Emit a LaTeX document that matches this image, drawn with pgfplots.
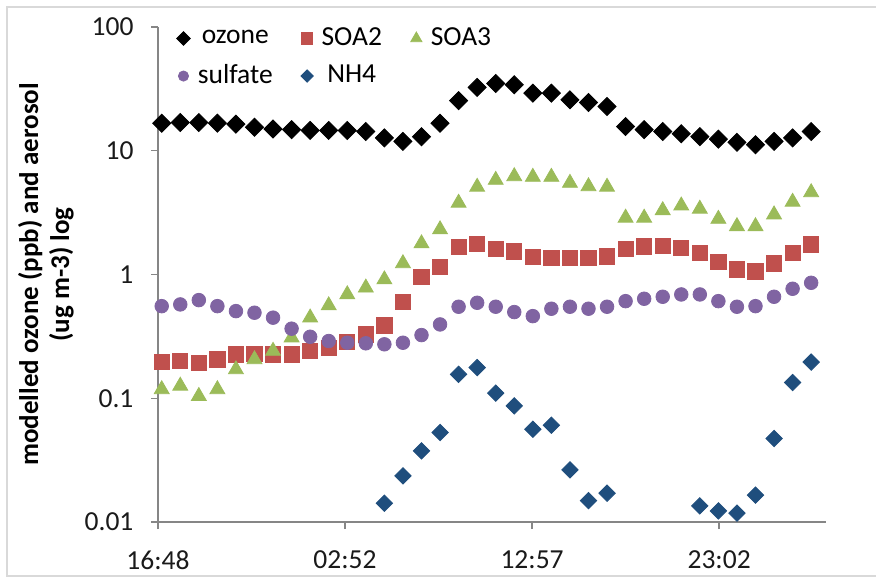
\documentclass[border=0pt]{standalone}
\usepackage{fontspec}
\setmainfont{Carlito}
\usepackage{pgfplots}
\pgfplotsset{compat=1.18}
\definecolor{soatwo}{HTML}{C0504D}
\definecolor{soathree}{HTML}{9BBB59}
\definecolor{sulf}{HTML}{8064A2}
\definecolor{nhfour}{HTML}{1F4E7D}
\definecolor{axgray}{HTML}{868686}
\definecolor{framegray}{HTML}{D9D9D9}
\definecolor{txt}{HTML}{1A1A1A}
\begin{document}
\fontsize{13.75}{16.5}\selectfont
\begin{tikzpicture}
\useasboundingbox (0,0) rectangle (438pt,289.5pt);
\draw[framegray, line width=1pt] (438pt,1.5pt) -- (3.5pt,1.5pt) -- (3.5pt,286pt) -- (438pt,286pt);
\begin{axis}[
  at={(79pt,28.5pt)}, anchor=south west,
  scale only axis, width=334pt, height=247.5pt,
  ymode=log, ymin=0.01, ymax=100,
  xmin=-0.2, xmax=35.8,
  xtick={-0.2,9.88,19.96,30.04},
  xticklabels={16:48,02:52,12:57,23:02},
  ytick={0.01,0.1,1,10,100},
  yticklabels={0.01,0.1,1,10,100},
  yminorticks=false, xminorticks=false,
  axis x line*=bottom, axis y line*=left,
  axis line style={axgray, line width=0.7pt, -},
  tick align=outside, major tick length=3.5pt,
  tick style={axgray, line width=0.7pt},
  /pgf/number format/assume math mode=true,
  ticklabel style={font=\fontsize{13.75}{16}\selectfont, text=txt},
  xticklabel style={yshift=-6pt},
  yticklabel style={xshift=-4pt},
  ylabel={modelled ozone (ppb) and aerosol\\(ug m-3) log},
  ylabel style={at={(axis description cs:-0.168,0.5)}, anchor=center, align=center, font=\fontsize{13.5}{15.5}\selectfont\bfseries, text=black},
  legend columns=3,
  legend style={draw=none, fill=none, at={(axis description cs:0.01,1.012)}, anchor=north west,
    font=\fontsize{13.75}{15}\selectfont, nodes={inner sep=1pt}, row sep=5.5pt,
    /tikz/every even column/.append style={column sep=10pt}},
  legend image code/.code={\path (-6pt,0pt) (6pt,0pt); \draw[#1, /tikz/every mark/.append style={scale=0.75}] plot coordinates {(0pt,0pt)};},
]
\addplot[only marks, mark=square*, mark size=3.2pt, mark options={rotate=45, fill=black, draw=black}] table {
x y
0 16.7
1 16.9
2 16.9
3 16.7
4 16.4
5 15.5
6 15.0
7 14.8
8 14.6
9 14.6
10 14.6
11 14.3
12 12.7
13 11.9
14 13.0
15 16.7
16 25.4
17 32.5
18 35.0
19 34.1
20 29.2
21 29.2
22 25.8
23 24.5
24 22.8
25 15.7
26 14.8
27 14.3
28 13.7
29 13.0
30 12.4
31 11.7
32 11.2
33 11.9
34 12.7
35 14.3
};
\addlegendentry{ozone}
\addplot[only marks, mark=square*, mark size=3.8pt, mark options={fill=soatwo, draw=soatwo}] table {
x y
0 0.196
1 0.200
2 0.194
3 0.206
4 0.226
5 0.229
6 0.226
7 0.226
8 0.241
9 0.256
10 0.284
11 0.328
12 0.388
13 0.598
14 0.958
15 1.15
16 1.67
17 1.78
18 1.62
19 1.54
20 1.39
21 1.36
22 1.36
23 1.36
24 1.40
25 1.61
26 1.69
27 1.71
28 1.64
29 1.50
30 1.26
31 1.10
32 1.06
33 1.23
34 1.50
35 1.75
};
\addlegendentry{SOA2}
\addplot[only marks, mark=triangle*, mark size=4.3pt, mark options={fill=soathree, draw=soathree}] table {
x y
0 0.118
1 0.126
2 0.104
3 0.118
4 0.171
5 0.206
6 0.241
7 0.309
8 0.448
9 0.562
10 0.690
11 0.782
12 0.911
13 1.23
14 1.78
15 2.31
16 3.79
17 5.10
18 5.8
19 6.21
20 6.14
21 6.14
22 5.49
23 5.15
24 5.10
25 2.87
26 2.87
27 3.30
28 3.60
29 3.39
30 2.81
31 2.45
32 2.45
33 3.05
34 3.86
35 4.61
};
\addlegendentry{SOA3}
\addplot[only marks, mark=*, mark size=3.4pt, mark options={fill=sulf, draw=sulf}] table {
x y
0 0.555
1 0.573
2 0.621
3 0.555
4 0.506
5 0.491
6 0.448
7 0.365
8 0.314
9 0.290
10 0.281
11 0.278
12 0.273
13 0.281
14 0.324
15 0.395
16 0.549
17 0.591
18 0.549
19 0.497
20 0.461
21 0.529
22 0.549
23 0.529
24 0.549
25 0.609
26 0.637
27 0.661
28 0.690
29 0.690
30 0.609
31 0.549
32 0.555
33 0.661
34 0.767
35 0.857
};
\addlegendentry{sulfate}
\addplot[only marks, mark=square*, mark size=2.9pt, mark options={rotate=45, fill=nhfour, draw=nhfour}] table {
x y
12 0.0142
13 0.0236
14 0.0376
15 0.0529
16 0.156
17 0.177
18 0.110
19 0.0867
20 0.0562
21 0.0606
22 0.0264
23 0.0149
24 0.0171
29 0.0135
30 0.0123
31 0.0118
32 0.0165
33 0.0473
34 0.134
35 0.196
};
\addlegendentry{NH4}
\end{axis}
\end{tikzpicture}
\end{document}
